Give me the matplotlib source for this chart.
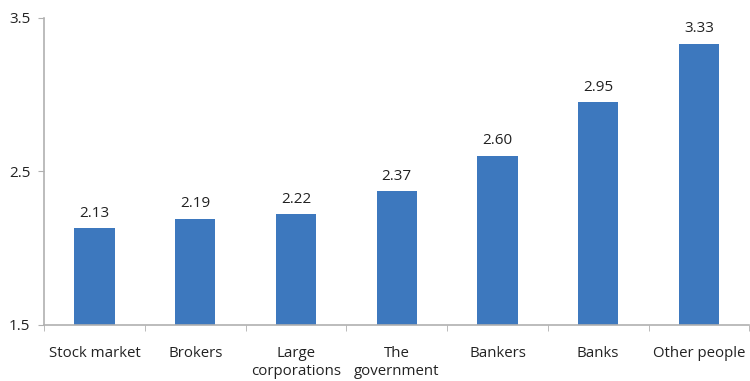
import numpy as np
from matplotlib import pyplot as plt

categories = ['Stock market', 'Brokers', 'Large\ncorporations', 'The\ngovernment',
              'Bankers', 'Banks', 'Other people']
values = [2.13, 2.19, 2.22, 2.37, 2.60, 2.95, 3.33]
yticks = [1.5, 2.5, 3.5]

plt.rcParams['font.family'] = ['Open Sans', 'DejaVu Sans']

fig = plt.figure(figsize=(7.5, 3.81), dpi=100)
ax = fig.add_axes([0.059, 0.147, 0.94, 0.806])

x = np.arange(len(categories))
ax.bar(x, values, width=0.4, bottom=0, color='#3d78be')
for xi, v in zip(x, values):
    ax.text(xi, v + 0.05, f'{v:.2f}', ha='center', va='bottom', fontsize=11, color='#222222')

ax.set_ylim(1.5, 3.5)
ax.set_xlim(-0.5, len(categories) - 0.5)
ax.set_yticks(yticks)
ax.set_yticklabels([str(t) for t in yticks], fontsize=11, color='#222222')

ax.set_xticks(x)
ax.set_xticklabels(categories, fontsize=10.8, color='#222222', va='top', linespacing=1.3)
ax.tick_params(axis='x', length=0, pad=15)
ax.set_xticks(np.arange(len(categories) + 1) - 0.5, minor=True)
ax.tick_params(axis='x', which='minor', length=4, color='#b0b0b0')
ax.tick_params(axis='y', length=4, color='#b0b0b0', pad=6)

for s in ['top', 'right']:
    ax.spines[s].set_visible(False)
for s in ['left', 'bottom']:
    ax.spines[s].set_color('#b0b0b0')
    ax.spines[s].set_linewidth(1.2)

fig.savefig('out.png', dpi=100)
